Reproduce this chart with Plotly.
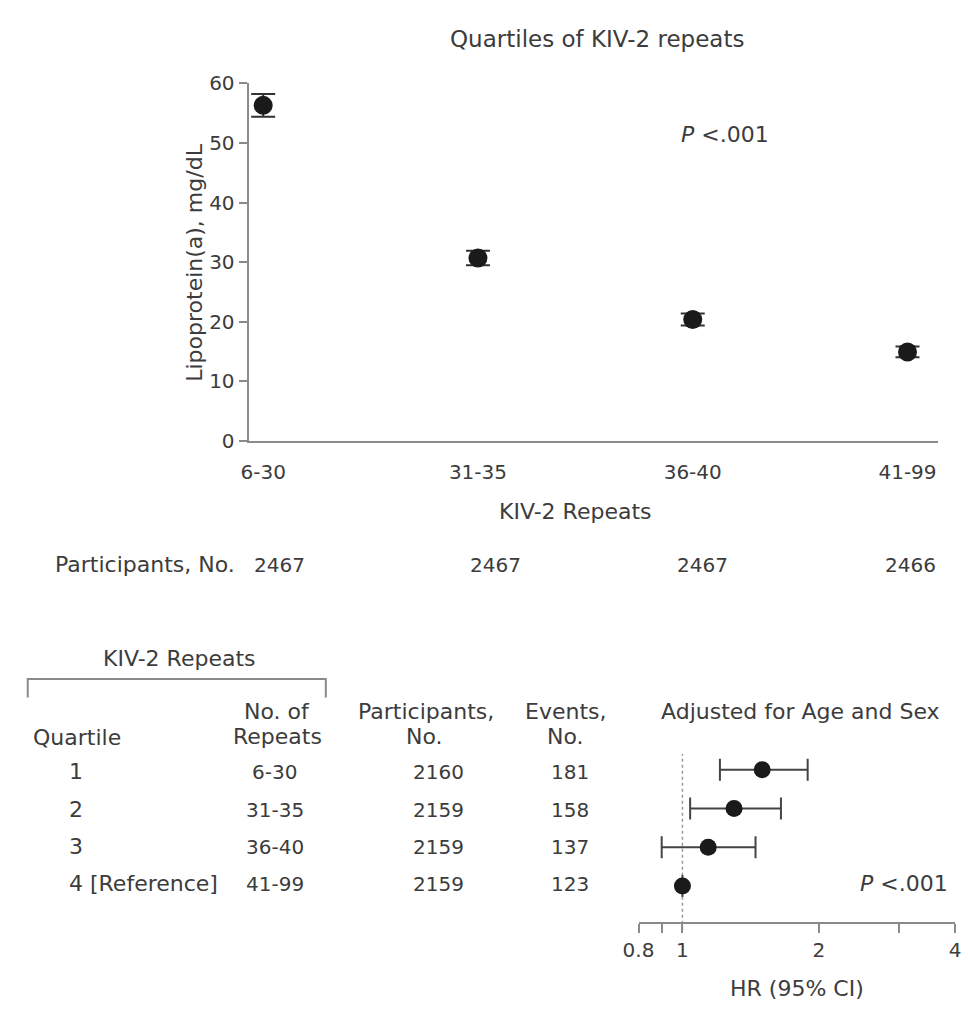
import plotly.graph_objects as go

# ---------------- data ----------------
repeat_groups = ["6-30", "31-35", "36-40", "41-99"]
lpa_mean = [56.3, 30.7, 20.4, 14.95]
lpa_err = [1.9, 1.2, 1.0, 0.9]
participants_top = [2467, 2467, 2467, 2466]

quartiles = ["1", "2", "3", "4 [Reference]"]
repeats_col = ["6-30", "31-35", "36-40", "41-99"]
participants_bottom = [2160, 2159, 2159, 2159]
events = [181, 158, 137, 123]
hr = [1.50, 1.30, 1.14, 1.00]
hr_lo = [1.21, 1.04, 0.90, 1.00]
hr_hi = [1.89, 1.65, 1.45, 1.00]
hr_ticks = [0.8, 0.9, 1, 2, 3, 4]
hr_ticktext = ["0.8", "", "1", "2", "", "4"]

W, H = 968, 1017
FONT = "DejaVu Sans"
TXT = "#3c3c3c"
AX = "#8a8a8a"
FS = 22      # words
FN = 20      # numbers in table
FT = 20      # tick labels


def X(px):
    return px / W


def Y(py):
    return 1 - py / H


fig = go.Figure()

# top chart: Lp(a) by KIV-2 quartile
fig.add_trace(go.Scatter(
    x=repeat_groups, y=lpa_mean, mode="markers",
    marker=dict(size=19, color="#1a1a1a"),
    error_y=dict(type="data", array=lpa_err, color="#333333", thickness=2, width=12),
    xaxis="x", yaxis="y", showlegend=False, cliponaxis=False,
))

# forest plot
rows = list(range(len(quartiles)))
fig.add_trace(go.Scatter(
    x=hr, y=rows, mode="markers",
    marker=dict(size=17, color="#1a1a1a"),
    error_x=dict(type="data",
                 array=[h - c for h, c in zip(hr_hi, hr)],
                 arrayminus=[c - l for c, l in zip(hr, hr_lo)],
                 color="#444444", thickness=2, width=11),
    xaxis="x2", yaxis="y2", showlegend=False, cliponaxis=False,
))

fig.update_layout(
    width=W, height=H,
    margin=dict(l=0, r=0, t=0, b=0),
    paper_bgcolor="white", plot_bgcolor="white",
    font=dict(family=FONT, size=FS, color=TXT),
    xaxis=dict(domain=[X(238), X(943)], type="category",
               range=[-0.068, 3.14], showline=True, linecolor=AX, linewidth=2,
               ticks="", showgrid=False, zeroline=False,
               tickfont=dict(size=FT, color=TXT), ticklabelstandoff=12,
               anchor="y"),
    yaxis=dict(domain=[Y(439.5), Y(73)], range=[0, 60], tickvals=[0, 10, 20, 30, 40, 50, 60],
               showline=True, linecolor=AX, linewidth=2, ticks="outside",
               ticklen=8, tickwidth=2, tickcolor=AX, showgrid=False, zeroline=False,
               tickfont=dict(size=FT, color=TXT), anchor="x"),
    xaxis2=dict(domain=[X(637), X(961)], type="log",
                range=[-0.09691, 0.60206], tickvals=hr_ticks, ticktext=hr_ticktext,
                showline=True, linecolor=AX, linewidth=2, ticks="outside",
                ticklen=9, tickwidth=2, tickcolor=AX, showgrid=False, zeroline=False,
                tickfont=dict(size=FT, color=TXT), anchor="y2"),
    yaxis2=dict(domain=[Y(932), Y(755)], range=[3.93, -0.53], visible=False,
                anchor="x2"),
)

shapes = []
# dotted reference line at HR = 1
shapes.append(dict(type="line", xref="x2", yref="paper", x0=1, x1=1,
                   y0=Y(940), y1=Y(760), line=dict(color="#9a9a9a", width=1.5, dash="dot"),
                   layer="below"))
# bracket over KIV-2 repeats columns
shapes.append(dict(type="path", xref="paper", yref="paper",
                   path=f"M {X(12)},{Y(702)} L {X(12)},{Y(683)} L {X(317)},{Y(683)} L {X(317)},{Y(702)}",
                   line=dict(color=AX, width=2)))
fig.update_layout(shapes=shapes)

ann = []


def A(text, x, y, xa="center", size=FS, **kw):
    ann.append(dict(text=text, x=X(x), y=Y(y), xref="paper", yref="paper",
                    xanchor=xa, yanchor="middle", showarrow=False,
                    font=dict(family=FONT, size=size, color=TXT), **kw))


A("Quartiles of KIV-2 repeats", 594, 28, size=23)
A("Lipoprotein(a), mg/dL", 183, 257, textangle=-90)
A("<i>P</i> &lt;.001", 725, 125)
A("KIV-2 Repeats", 573, 512)
A("Participants, No.", 38, 566, xa="left")
top_cols = [270, 491, 702, 915]
for cx, n in zip(top_cols, participants_top):
    A(str(n), cx, 566, size=FN)

A("KIV-2 Repeats", 167, 662)
A("No. of", 267, 716)
A("Repeats", 268, 742)
A("Quartile", 15, 743, xa="left")
A("Participants,", 420, 716)
A("No.", 418, 742)
A("Events,", 562, 716)
A("No.", 562, 742)
A("Adjusted for Age and Sex", 803, 716)

row_y = [778, 817, 855, 893]
for ry, q, r, p, e in zip(row_y, quartiles, repeats_col, participants_bottom, events):
    A(q, 52, ry, xa="left")
    A(r, 265, ry, size=FN)
    A(str(p), 432, ry, size=FN)
    A(str(e), 567, ry, size=FN)

A("<i>P</i> &lt;.001", 956, 893, xa="right")
A("HR (95% CI)", 799, 1000)

fig.update_layout(annotations=ann)

fig.write_html("out.html")
